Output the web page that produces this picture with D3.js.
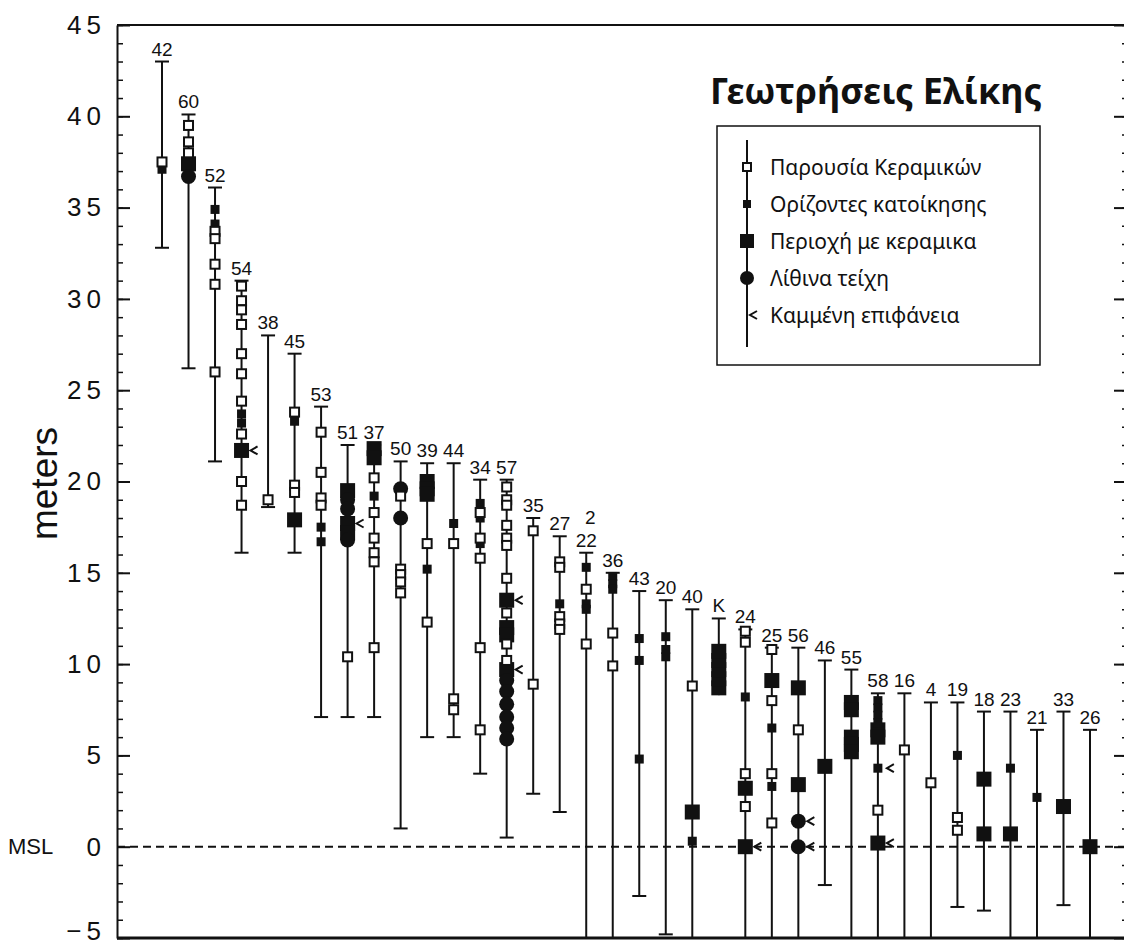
<!DOCTYPE html>
<html>
<head>
<meta charset="utf-8">
<script src="https://cdn.jsdelivr.net/npm/d3@7"></script>
<style>
  body { margin: 0; background: #fff; }
  text { font-family: "Liberation Sans", Arial, sans-serif; fill: #111; }
  .greek { font-family: "Noto Sans", "DejaVu Sans", sans-serif; }
</style>
</head>
<body>
<svg id="chart" width="1124" height="946"></svg>
<script>
// boreholes, left to right
var holes = ['42','60','52','54','38','45','53','51','37','50','39','44','34','57','35','27','2/22','36',
             '43','20','40','K','24','25','56','46','55','58','16','4','19','18','23','21','33','26'];

// top of each core (m)
var tops = [43.0, 40.1, 36.1, 31.0, 28.0, 27.0, 24.1, 22.0, 22.0, 21.1, 21.0, 21.0, 20.1, 20.1, 18.0, 17.0, 16.1, 15.0,
            14.0, 13.5, 13.0, 12.5, 11.9, 10.9, 10.9, 10.2, 9.7, 8.4, 8.4, 7.9, 7.9, 7.4, 7.4, 6.4, 7.4, 6.4];

// bottom of each core (m), null = runs on below the axis
var bottoms = [32.8, 26.2, 21.1, 16.1, 18.6, 16.1, 7.1, 7.1, 7.1, 1.0, 6.0, 6.0, 4.0, 0.5, 2.9, 1.9, null, null,
               -2.7, -4.8, null, 8.3, null, null, null, -2.1, null, null, null, null, -3.3, -3.5, null, null, -3.2, null];
var uncapped = ['K'];

// Παρουσία Κεραμικών
var potteryPresence = [
  ['42',37.5],
  ['60',39.5],['60',38.6],['60',38.0],
  ['52',33.7],['52',33.3],['52',31.9],['52',30.8],['52',26.0],
  ['54',30.7],['54',29.9],['54',29.4],['54',28.6],['54',27.0],['54',25.9],['54',24.4],['54',22.6],['54',20.0],['54',18.7],
  ['38',19.0],
  ['45',23.8],['45',19.8],['45',19.4],
  ['53',22.7],['53',20.5],['53',19.1],['53',18.7],
  ['51',10.4],
  ['37',20.2],['37',18.3],['37',16.9],['37',16.1],['37',15.6],['37',10.9],
  ['50',19.2],['50',15.2],['50',14.9],['50',14.5],['50',13.9],
  ['39',16.6],['39',12.3],
  ['44',16.6],['44',8.1],['44',7.5],
  ['34',18.3],['34',16.9],['34',15.8],['34',10.9],['34',6.4],
  ['57',19.7],['57',19.0],['57',18.7],['57',17.6],['57',16.9],['57',16.5],['57',14.7],['57',12.8],['57',11.1],['57',10.2],
  ['35',17.3],['35',8.9],
  ['27',15.6],['27',15.3],['27',12.6],['27',12.2],['27',11.9],
  ['2/22',14.1],['2/22',11.1],
  ['36',11.7],['36',9.9],
  ['40',8.8],
  ['24',11.8],['24',11.2],['24',4.0],['24',2.2],
  ['25',10.8],['25',8.0],['25',4.0],['25',1.3],
  ['56',6.4],
  ['58',2.0],
  ['16',5.3],
  ['4',3.5],
  ['19',1.6],['19',0.9]
];

// Ορίζοντες κατοίκησης
var occupation = [
  ['42',37.1],
  ['52',34.9],['52',34.1],
  ['54',23.7],['54',23.2],
  ['45',23.3],
  ['53',17.5],['53',16.7],
  ['37',19.2],
  ['39',15.2],
  ['44',17.7],
  ['34',18.8],['34',18.0],['34',16.6],
  ['27',13.3],
  ['2/22',15.3],['2/22',13.3],['2/22',13.0],
  ['36',14.8],['36',14.4],['36',14.1],
  ['43',11.4],['43',10.2],['43',4.8],
  ['20',11.5],['20',10.8],['20',10.4],
  ['40',0.3],
  ['24',8.2],
  ['25',6.5],['25',3.3],
  ['58',8.0],['58',7.6],['58',7.2],['58',6.8],['58',4.3],
  ['19',5.0],
  ['23',4.3],
  ['21',2.7]
];

// Περιοχή με κεραμικα
var ceramicZone = [
  ['60',37.4],
  ['54',21.7],
  ['45',17.9],
  ['51',19.5],['51',17.7],['51',17.2],
  ['37',21.8],['37',21.3],
  ['39',20.0],['39',19.6],['39',19.3],
  ['57',13.5],['57',12.0],['57',11.6],['57',9.7],
  ['40',1.9],
  ['K',8.7],['K',9.2],['K',9.7],['K',10.2],['K',10.7],
  ['24',3.2],['24',0.0],
  ['25',9.1],
  ['56',8.7],['56',3.4],
  ['46',4.4],
  ['55',7.9],['55',7.5],['55',6.0],['55',5.6],['55',5.2],
  ['58',6.4],['58',6.0],['58',0.2],
  ['18',3.7],['18',0.7],
  ['23',0.7],
  ['33',2.2],
  ['26',0.0]
];

// Λίθινα τείχη
var stoneWalls = [
  ['60',36.7],
  ['51',19.0],['51',18.5],['51',16.8],
  ['50',19.6],['50',18.0],
  ['57',9.1],['57',8.5],['57',7.8],['57',7.1],['57',6.5],['57',5.9],
  ['56',1.4],['56',0.0]
];

// Καμμένη επιφάνεια
var burnt = [
  ['54',21.7], ['51',17.7], ['57',13.5], ['57',9.7], ['24',0.0],
  ['56',1.4], ['56',0.0], ['58',4.3], ['58',0.2]
];

var yTicks = [-5, 0, 5, 10, 15, 20, 25, 30, 35, 40, 45];
var legendLabels = ['Παρουσία Κεραμικών', 'Ορίζοντες κατοίκησης', 'Περιοχή με κεραμικα', 'Λίθινα τείχη', 'Καμμένη επιφάνεια'];
var title = 'Γεωτρήσεις Ελίκης';

// layout
var plot = {left: 117, right: 1126, top: 25, bottom: 938};
var svg = d3.select('#chart');

var y = d3.scaleLinear().domain([-5, 45]).range([plot.bottom, plot.top]);
var x = d3.scalePoint().domain(holes).range([162, 1090]);

// frame top
svg.append('line')
    .attr('x1', plot.left).attr('x2', plot.right)
    .attr('y1', plot.top).attr('y2', plot.top)
    .attr('stroke', '#111').attr('stroke-width', 2);

// left axis, minor then major
svg.append('g')
    .attr('transform', 'translate(' + plot.left + ',0)')
    .call(d3.axisLeft(y).tickValues(d3.range(-5, 46)).tickSize(-6).tickFormat(''))
    .call(function(g){ g.select('.domain').remove(); })
    .selectAll('line').attr('stroke', '#111').attr('stroke-width', 1.5);

var yAxis = svg.append('g')
    .attr('transform', 'translate(' + plot.left + ',0)')
    .call(d3.axisLeft(y).tickValues(yTicks).tickSizeInner(-13).tickSizeOuter(0).tickPadding(11)
        .tickFormat(function(d){ return d < 0 ? '\u2212' + (-d) : String(d); }));
yAxis.select('.domain').attr('stroke', '#111').attr('stroke-width', 2);
yAxis.selectAll('line').attr('stroke', '#111').attr('stroke-width', 2);
yAxis.selectAll('text')
    .attr('font-size', 26).attr('letter-spacing', 5)
    .style('font-family', '"Liberation Sans", Arial, sans-serif').attr('fill', '#111')
    .attr('dy', function(d){ return d === -5 ? '0.05em' : '0.32em'; });

svg.append('text')
    .attr('x', 8).attr('y', y(0)).attr('dy', '0.35em')
    .attr('font-size', 22)
    .text('MSL');

svg.append('text')
    .attr('transform', 'translate(57,' + ((plot.top + plot.bottom) / 2 + 2) + ') rotate(-90)')
    .attr('text-anchor', 'middle')
    .attr('font-size', 37)
    .text('meters');

// right axis (ticks only show, line off the edge)
svg.append('g')
    .attr('transform', 'translate(' + plot.right + ',0)')
    .call(d3.axisRight(y).tickValues(d3.range(-5, 46)).tickSize(-4).tickFormat(''))
    .selectAll('line').attr('stroke', '#111').attr('stroke-width', 1.5);
svg.append('g')
    .attr('transform', 'translate(' + plot.right + ',0)')
    .call(d3.axisRight(y).tickValues(yTicks).tickSize(-12).tickFormat(''))
    .selectAll('line').attr('stroke', '#111').attr('stroke-width', 2);

// bottom line
svg.append('line')
    .attr('x1', plot.left).attr('x2', plot.right)
    .attr('y1', plot.bottom).attr('y2', plot.bottom)
    .attr('stroke', '#111').attr('stroke-width', 3);

// mean sea level
svg.append('line')
    .attr('x1', plot.left).attr('x2', plot.right)
    .attr('y1', y(0)).attr('y2', y(0))
    .attr('stroke', '#111').attr('stroke-width', 2)
    .attr('stroke-dasharray', '8,5');

// cores
var cores = svg.append('g').selectAll('g')
    .data(holes)
    .enter().append('g')
    .attr('transform', function(d){ return 'translate(' + x(d) + ',0)'; });

cores.append('line')
    .attr('y1', function(d, i){ return y(tops[i]); })
    .attr('y2', function(d, i){ return bottoms[i] === null ? plot.bottom : y(bottoms[i]); })
    .attr('stroke', '#111').attr('stroke-width', 2);

cores.append('line')
    .attr('x1', -7).attr('x2', 7)
    .attr('y1', function(d, i){ return y(tops[i]); })
    .attr('y2', function(d, i){ return y(tops[i]); })
    .attr('stroke', '#111').attr('stroke-width', 2);

cores.filter(function(d, i){ return bottoms[i] !== null && uncapped.indexOf(d) < 0; })
    .append('line')
    .attr('x1', -7).attr('x2', 7)
    .attr('y1', function(d){ return y(bottoms[holes.indexOf(d)]); })
    .attr('y2', function(d){ return y(bottoms[holes.indexOf(d)]); })
    .attr('stroke', '#111').attr('stroke-width', 2);

// hole labels (2 and 22 share a core)
cores.each(function(d, i){
    var lines = d.split('/').reverse();
    var g = d3.select(this);
    lines.forEach(function(t, k){
        g.append('text')
            .attr('x', k ? 4 : 0)
            .attr('y', y(tops[i]) - 6 - k * 23)
            .attr('text-anchor', 'middle')
            .attr('font-size', 19)
            .text(t);
    });
});

// markers
var marks = svg.append('g');

marks.selectAll('.zone')
    .data(ceramicZone)
    .enter().append('rect')
    .attr('class', 'zone')
    .attr('x', function(d){ return x(d[0]) - 7.5; })
    .attr('y', function(d){ return y(d[1]) - 7.5; })
    .attr('width', 15).attr('height', 15)
    .attr('fill', '#111');

marks.selectAll('.wall')
    .data(stoneWalls)
    .enter().append('circle')
    .attr('class', 'wall')
    .attr('cx', function(d){ return x(d[0]); })
    .attr('cy', function(d){ return y(d[1]); })
    .attr('r', 7.5)
    .attr('fill', '#111');

marks.selectAll('.occ')
    .data(occupation)
    .enter().append('rect')
    .attr('class', 'occ')
    .attr('x', function(d){ return x(d[0]) - 4.5; })
    .attr('y', function(d){ return y(d[1]) - 4.5; })
    .attr('width', 9).attr('height', 9)
    .attr('fill', '#111');

marks.selectAll('.pot')
    .data(potteryPresence)
    .enter().append('rect')
    .attr('class', 'pot')
    .attr('x', function(d){ return x(d[0]) - 4.5; })
    .attr('y', function(d){ return y(d[1]) - 4.5; })
    .attr('width', 9).attr('height', 9)
    .attr('fill', '#fff').attr('stroke', '#111').attr('stroke-width', 2);

marks.selectAll('.burnt')
    .data(burnt)
    .enter().append('path')
    .attr('class', 'burnt')
    .attr('d', function(d){
        var px = x(d[0]) + 9, py = y(d[1]);
        return 'M' + (px + 7) + ',' + (py - 4) + 'L' + px + ',' + py + 'L' + (px + 7) + ',' + (py + 4);
    })
    .attr('fill', 'none').attr('stroke', '#111').attr('stroke-width', 2);

// title and legend
svg.append('text')
    .attr('class', 'greek')
    .attr('x', 710).attr('y', 104)
    .attr('font-size', 36).attr('font-weight', 'bold')
    .text(title);

var legend = svg.append('g');
legend.append('rect')
    .attr('x', 717).attr('y', 126).attr('width', 323).attr('height', 239)
    .attr('fill', 'none').attr('stroke', '#111').attr('stroke-width', 1.5);
legend.append('line')
    .attr('x1', 747).attr('x2', 747).attr('y1', 140).attr('y2', 347)
    .attr('stroke', '#111').attr('stroke-width', 2);

var ly = d3.scalePoint().domain(legendLabels).range([167, 315]);
legendLabels.forEach(function(lab, k){
    var cy = ly(lab);
    if (k === 0) {
        legend.append('rect').attr('x', 743).attr('y', cy - 4).attr('width', 8).attr('height', 8)
            .attr('fill', '#fff').attr('stroke', '#111').attr('stroke-width', 2);
    } else if (k === 1) {
        legend.append('rect').attr('x', 743).attr('y', cy - 4).attr('width', 8).attr('height', 8).attr('fill', '#111');
    } else if (k === 2) {
        legend.append('rect').attr('x', 740).attr('y', cy - 7).attr('width', 14).attr('height', 14).attr('fill', '#111');
    } else if (k === 3) {
        legend.append('circle').attr('cx', 747).attr('cy', cy).attr('r', 7).attr('fill', '#111');
    } else {
        legend.append('path')
            .attr('d', 'M' + 757 + ',' + (cy - 4) + 'L' + 750 + ',' + cy + 'L' + 757 + ',' + (cy + 4))
            .attr('fill', 'none').attr('stroke', '#111').attr('stroke-width', 2);
    }
    legend.append('text')
        .attr('class', 'greek')
        .attr('x', 770).attr('y', cy).attr('dy', '0.36em')
        .attr('font-size', 21)
        .text(lab);
});
</script>
</body>
</html>
